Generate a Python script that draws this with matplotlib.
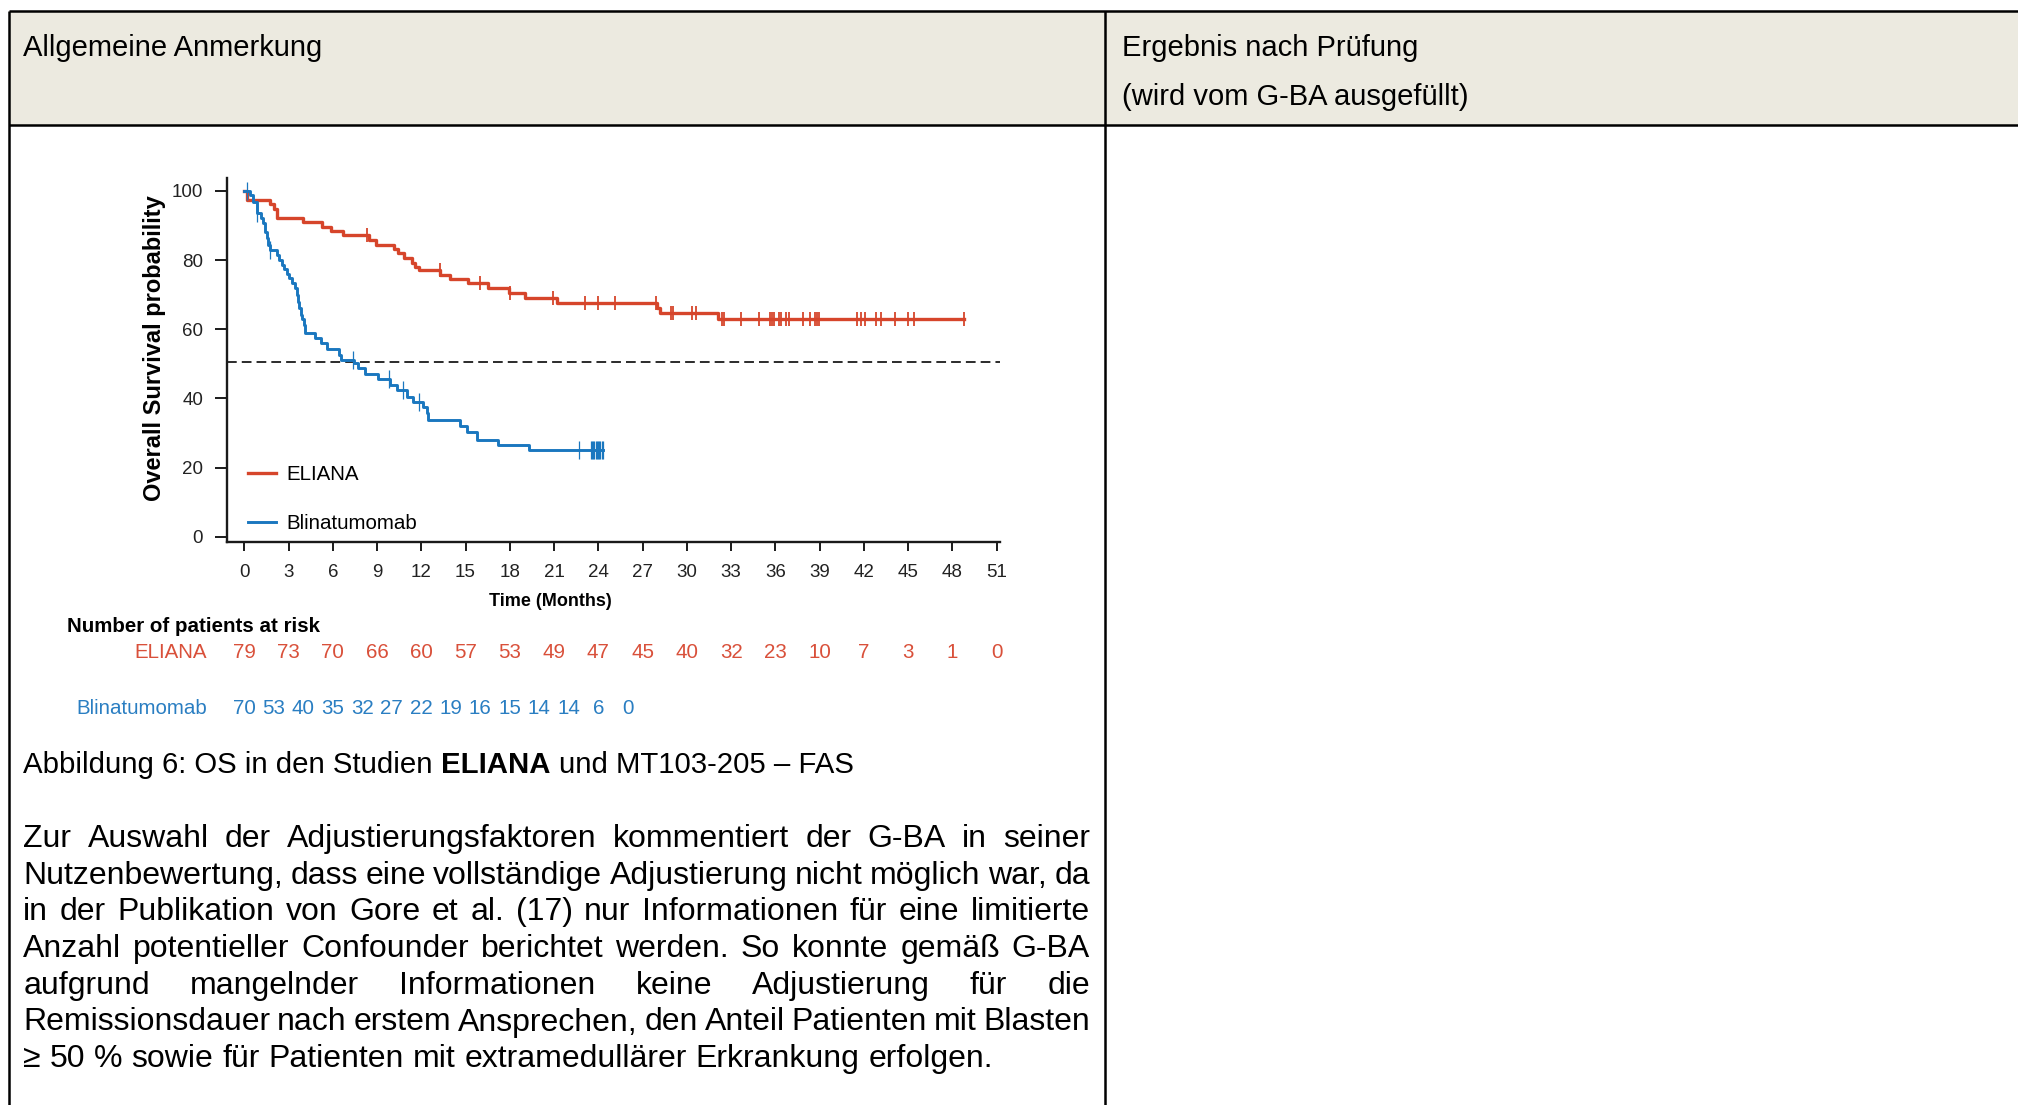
import numpy as np
import matplotlib
matplotlib.use("Agg")
import matplotlib.pyplot as plt
from matplotlib.patches import Rectangle
from matplotlib.transforms import blended_transform_factory

plt.rcParams['font.family'] = ['Liberation Sans', 'DejaVu Sans']

# ---------------- Kaplan-Meier data: time (months) vs overall survival (%) ----------------
eliana_time = [0.0, 0.2, 1.75, 2.05, 2.2, 4.0, 5.25, 5.9, 6.7, 8.45, 8.95, 10.15, 10.45,
               10.85, 11.35, 11.6, 11.85, 13.3, 13.95, 15.2, 16.55, 17.97, 19.0, 21.2,
               27.95, 28.2, 32.1, 48.8]
eliana_surv = [100, 97.4, 96.1, 94.9, 92.3, 90.9, 89.7, 88.4, 87.3, 85.8, 84.4, 83.1, 82.0,
               80.5, 79.1, 78.1, 77.1, 75.7, 74.5, 73.3, 71.9, 70.4, 69.1, 67.7,
               66.2, 64.8, 62.9, 62.9]
eliana_censored = [8.3, 13.25, 16.0, 18.0, 20.9, 23.1, 24.0, 25.15, 27.9, 28.9, 29.05, 30.35,
                   30.65, 32.37, 32.52, 33.65, 34.9, 35.64, 35.76, 35.91, 36.27, 36.39, 36.73,
                   36.91, 37.9, 38.35, 38.71, 38.85, 38.94, 41.56, 41.81, 42.06, 42.83, 43.14,
                   44.14, 44.97, 45.4, 48.8]

blin_time = [0.0, 0.39, 0.57, 0.88, 1.11, 1.29, 1.40, 1.56, 1.63, 1.74, 2.20, 2.37, 2.53,
             2.69, 2.87, 3.05, 3.21, 3.44, 3.60, 3.66, 3.73, 3.82, 3.91, 4.05, 4.12, 4.79,
             5.18, 5.63, 6.44, 6.54, 7.44, 7.73, 8.18, 9.08, 9.88, 10.33, 11.0, 11.46, 12.14,
             12.37, 12.48, 14.62, 15.08, 15.75, 17.22, 19.32, 24.34]
blin_surv = [100, 98.8, 96.9, 93.5, 92.1, 90.7, 88.2, 86.3, 84.4, 82.9, 81.5, 80.0, 78.6,
             77.3, 76.0, 74.7, 73.3, 71.9, 69.9, 68.0, 66.1, 64.1, 62.9, 61.2, 58.8, 57.4,
             55.9, 54.3, 52.6, 51.1, 50.2, 48.7, 47.1, 45.5, 43.9, 42.4, 40.5, 39.1, 37.4,
             35.7, 33.8, 32.0, 30.4, 28.0, 26.5, 25.1, 25.1]
blin_censored = [0.2, 0.88, 1.74, 7.4, 9.83, 10.78, 11.87, 22.7, 23.5, 23.58, 23.66, 23.74,
                 23.82, 23.9, 23.98, 24.06, 24.14, 24.22, 24.3]

median_level = 50.5

# Numbers at risk
eliana_risk_times = list(range(0, 52, 3))
eliana_risk = [79, 73, 70, 66, 60, 57, 53, 49, 47, 45, 40, 32, 23, 10, 7, 3, 1, 0]
blin_risk_times = list(range(0, 27, 2))
blin_risk = [70, 53, 40, 35, 32, 27, 22, 19, 16, 15, 14, 14, 6, 0]

x_ticks = list(range(0, 52, 3))
y_ticks = [0, 20, 40, 60, 80, 100]

# ---------------- document text ----------------
header_left = "Allgemeine Anmerkung"
header_right = ["Ergebnis nach Prüfung", "(wird vom G-BA ausgefüllt)"]
caption_parts = [("Abbildung 6: OS in den Studien", "normal"), ("ELIANA", "bold"),
                 ("und MT103-205 – FAS", "normal")]
paragraph_lines = [
    "Zur Auswahl der Adjustierungsfaktoren kommentiert der G-BA in seiner",
    "Nutzenbewertung, dass eine vollständige Adjustierung nicht möglich war, da",
    "in der Publikation von Gore et al. (17) nur Informationen für eine limitierte",
    "Anzahl potentieller Confounder berichtet werden. So konnte gemäß G-BA",
    "aufgrund mangelnder Informationen keine Adjustierung für die",
    "Remissionsdauer nach erstem Ansprechen, den Anteil Patienten mit Blasten",
    "≥ 50 % sowie für Patienten mit extramedullärer Erkrankung erfolgen.",
]

RED = '#D6452B'
BLUE = '#1A77BF'
RED_TXT = '#D9503A'
BLUE_TXT = '#2A7EC2'
BEIGE = '#ECEAE0'

W, H = 2018, 1105
fig = plt.figure(figsize=(W / 100, H / 100), dpi=100)

# Page layer in pixel units (y grows downward)
doc = fig.add_axes([0, 0, 1, 1])
doc.set_xlim(0, W)
doc.set_ylim(H, 0)
doc.axis('off')

# Table: header band and borders
doc.add_patch(Rectangle((8.5, 10.5), W - 8.5, 124.5 - 10.5, facecolor=BEIGE, edgecolor='none'))
border = dict(color='black', lw=1.8, solid_capstyle='butt')
doc.plot([8.5, W], [10.5, 10.5], **border)
doc.plot([8.5, W], [124.5, 124.5], **border)
doc.plot([8.5, 8.5], [10.5, H], **border)
doc.plot([1105, 1105], [10.5, H], **border)

doc.text(23.3, 55.5, header_left, fontsize=21, va='baseline')
doc.text(1121.5, 55.5, header_right[0], fontsize=21, va='baseline')
doc.text(1121.5, 105, header_right[1], fontsize=21, va='baseline')

fig.canvas.draw()
renderer = fig.canvas.get_renderer()


def text_width(t):
    return t.get_window_extent(renderer).width


# Caption with a bold study name
x = 23.3
cap_size = 21.2
space_px = 0.278 * cap_size * 100 / 72
for part, weight in caption_parts:
    t = doc.text(x, 773, part, fontsize=cap_size, fontweight=weight, va='baseline')
    x += text_width(t) + space_px

# Justified paragraph
par_size = 23.0
par_space = 0.278 * par_size * 100 / 72
left_x, right_x = 23.3, 1090
for i, line in enumerate(paragraph_lines):
    y = 847 + i * 36.7
    words = line.split(' ')
    items = [doc.text(0, y, w, fontsize=par_size, va='baseline') for w in words]
    widths = [text_width(t) for t in items]
    last = i == len(paragraph_lines) - 1
    if last or len(words) == 1:
        gap = par_space
    else:
        gap = (right_x - left_x - sum(widths)) / (len(words) - 1)
    xx = left_x
    for t, w in zip(items, widths):
        t.set_x(xx)
        xx += w + gap

# ---------------- Kaplan-Meier chart ----------------
ax_l, ax_r, ax_t, ax_b = 226.7, 1000.0, 178.0, 541.7
ax = fig.add_axes([ax_l / W, 1 - ax_b / H, (ax_r - ax_l) / W, (ax_b - ax_t) / H])
ax.set_facecolor('none')
ax.set_xlim(-1.19, 51.23)
ax.set_ylim(-1.45, 103.76)


def level_at(times, surv, t):
    idx = np.searchsorted(times, t, side='right') - 1
    return np.asarray(surv)[idx]


ax.axhline(median_level, color='#2b2b2b', lw=1.4, ls=(0, (5.0, 2.6)), zorder=1)
ax.step(eliana_time, eliana_surv, where='post', color=RED, lw=2.4, label='ELIANA', zorder=3)
ax.step(blin_time, blin_surv, where='post', color=BLUE, lw=2.1, label='Blinatumomab', zorder=4)
ax.plot(eliana_censored, level_at(eliana_time, eliana_surv, eliana_censored), ls='none',
        marker='|', ms=9.5, mew=1.3, color=RED, zorder=3)
ax.plot(blin_censored, level_at(blin_time, blin_surv, blin_censored), ls='none',
        marker='|', ms=13.5, mew=0.9, color=BLUE, zorder=4)

for side in ('top', 'right'):
    ax.spines[side].set_visible(False)
for side in ('left', 'bottom'):
    ax.spines[side].set_linewidth(1.7)
    ax.spines[side].set_color('#1a1a1a')

ax.set_xticks(x_ticks)
ax.set_yticks(y_ticks)
ax.tick_params(axis='x', length=6.5, width=1.4, pad=9.5, labelsize=13.5, color='#1a1a1a',
               labelcolor='#222222')
ax.tick_params(axis='y', length=8.4, width=1.4, pad=8.5, labelsize=13.5, color='#1a1a1a',
               labelcolor='#222222')

ax.set_xlabel('Time (Months)', fontsize=13, fontweight='bold', va='center')
ax.xaxis.set_label_coords((550 - ax_l) / (ax_r - ax_l), (ax_b - 601.5) / (ax_b - ax_t))
ax.set_ylabel('Overall Survival probability', fontsize=17, fontweight='bold', va='center')
ax.yaxis.set_label_coords((154 - ax_l) / (ax_r - ax_l), (ax_b - 348) / (ax_b - ax_t))

ax.legend(loc='upper left', bbox_to_anchor=((248 - ax_l) / (ax_r - ax_l), (ax_b - 465) / (ax_b - ax_t)),
          frameon=False, fontsize=14.8, handlelength=1.36, handletextpad=0.53,
          labelspacing=1.45, borderpad=0, borderaxespad=0)

# Numbers at risk below the chart
blend = blended_transform_factory(ax.transData, doc.transData)
risk_size = 14.8
doc.text(67, 632.5, 'Number of patients at risk', fontsize=risk_size, fontweight='bold',
         va='baseline')
doc.text(207, 657.5, 'ELIANA', fontsize=risk_size, color=RED_TXT, ha='right', va='baseline')
doc.text(207, 714, 'Blinatumomab', fontsize=risk_size, color=BLUE_TXT, ha='right', va='baseline')
for t, n in zip(eliana_risk_times, eliana_risk):
    ax.text(t, 657.5, str(n), transform=blend, fontsize=risk_size, color=RED_TXT,
            ha='center', va='baseline')
for t, n in zip(blin_risk_times, blin_risk):
    ax.text(t, 714, str(n), transform=blend, fontsize=risk_size, color=BLUE_TXT,
            ha='center', va='baseline')

fig.savefig('out.png', dpi=100)
